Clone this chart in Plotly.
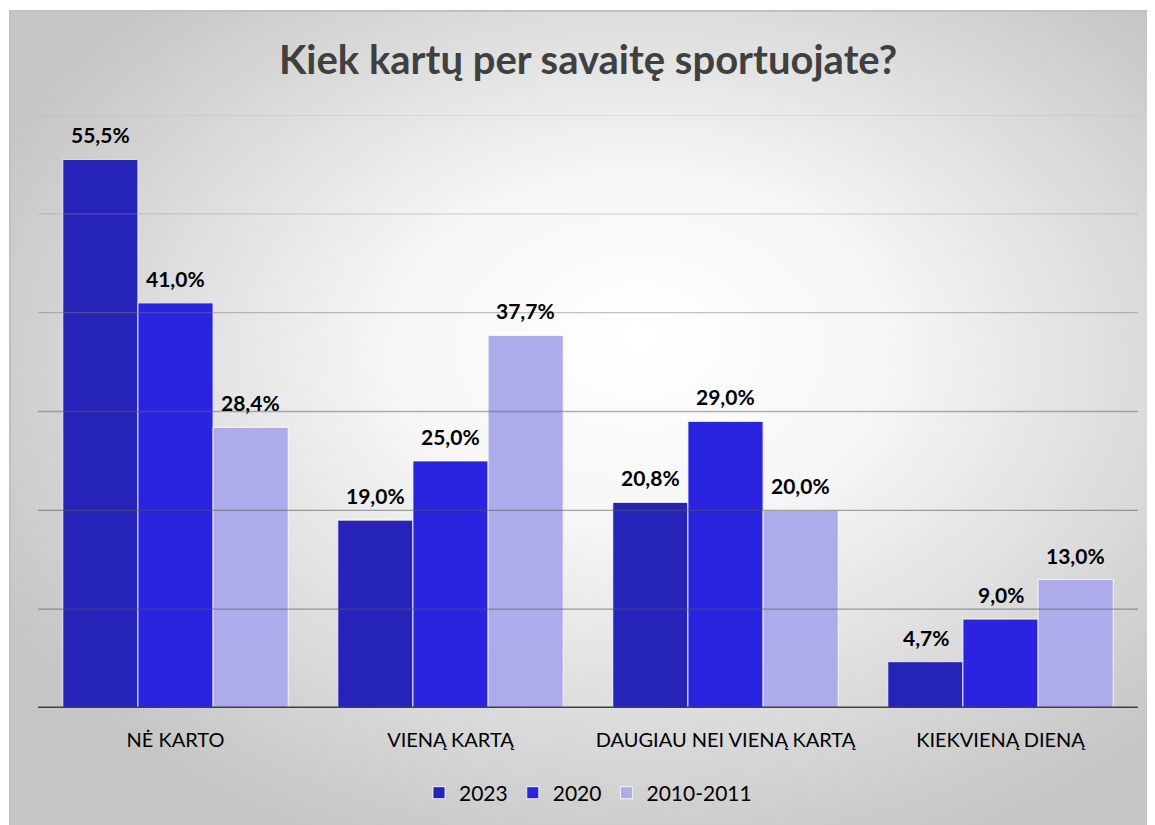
import plotly.graph_objects as go
import urllib.parse

categories = ["NĖ KARTO", "VIENĄ KARTĄ", "DAUGIAU NEI VIENĄ KARTĄ", "KIEKVIENĄ DIENĄ"]
series_names = ["2023", "2020", "2010-2011"]
values_2023 = [55.5, 19.0, 20.8, 4.7]
values_2020 = [41.0, 25.0, 29.0, 9.0]
values_2010 = [28.4, 37.7, 20.0, 13.0]
series_values = [values_2023, values_2020, values_2010]
colors = ["#2623B9", "#2A23E0", "#ADABEA"]
grid_values = [10, 20, 30, 40, 50, 60]
grid_colors = ["rgba(90,90,90,0.55)", "rgba(90,90,90,0.55)", "rgba(100,100,100,0.5)",
               "rgba(120,120,120,0.45)", "rgba(150,150,150,0.35)", "rgba(170,170,170,0.3)"]

FONT = "Lato, 'Open Sans', sans-serif"

fig = go.Figure()
for name, vals, col in zip(series_names, series_values, colors):
    fig.add_trace(go.Bar(
        name=name, x=categories, y=vals,
        marker=dict(color=col, line=dict(color="rgba(255,255,255,0.7)", width=1.2)),
        hoverinfo="skip",
    ))

# data labels
bar_px = 75
for i, vals in enumerate(series_values):
    for c, v in zip(categories, vals):
        fig.add_annotation(
            x=c, y=v, xref="x", yref="y",
            text="<b>" + f"{v:.1f}".replace(".", ",") + "%</b>",
            showarrow=False, yanchor="bottom", yshift=10, xshift=(i - 1) * bar_px,
            font=dict(family=FONT, size=21, color="#000000"),
        )

# gridlines above bars (semi-transparent)
for gv, gc in zip(grid_values, grid_colors):
    fig.add_shape(type="line", xref="paper", yref="y", x0=0, x1=1, y0=gv, y1=gv,
                  line=dict(color=gc, width=1.3), layer="above")
fig.add_shape(type="line", xref="paper", yref="y", x0=0, x1=1, y0=0, y1=0,
              line=dict(color="#404040", width=3), layer="above")

# radial gradient background
BW, BH = 1146, 815
svg = (
    f'<svg xmlns="http://www.w3.org/2000/svg" width="{BW}" height="{BH}" viewBox="0 0 {BW} {BH}" preserveAspectRatio="none">'
    '<defs><radialGradient id="g" cx="0.55" cy="0.45" r="0.62" fx="0.55" fy="0.4">'
    '<stop offset="0" stop-color="#ffffff"/>'
    '<stop offset="0.35" stop-color="#f6f6f6"/>'
    '<stop offset="1" stop-color="#c6c6c6"/>'
    '</radialGradient></defs>'
    f'<rect x="0" y="0" width="{BW}" height="{BH}" fill="url(#g)"/>'
    f'<path d="M1 {BH} L1 1 L{BW} 1" stroke="#c0c0c0" stroke-width="2" fill="none"/>'
    '</svg>'
)
src = "data:image/svg+xml;charset=utf-8," + urllib.parse.quote(svg)

# page body has an 8px margin: figure is laid out in page pixels minus 8
OFF = 8
W, H = 1155 - OFF, 825 - OFF
L, R, T, B = 38 - OFF, 17, 115 - OFF, 117
pw, ph = W - L - R, H - T - B
bx, by = 9 - OFF, 10 - OFF
fig.add_layout_image(
    source=src, xref="paper", yref="paper",
    x=(bx - L) / pw, y=(H - B - by) / ph,
    sizex=BW / pw, sizey=BH / ph,
    xanchor="left", yanchor="top", sizing="stretch", layer="below",
)

fig.update_layout(
    width=W, height=H,
    margin=dict(l=L, r=R, t=T, b=B, pad=0),
    paper_bgcolor="white", plot_bgcolor="rgba(0,0,0,0)",
    barmode="group", bargap=0.18, bargroupgap=0,
    title=dict(text="<b>Kiek kartų per savaitę sportuojate?</b>", x=0.5, xanchor="center",
               y=(H - (60 - OFF)) / H, yanchor="middle", xref="paper",
               font=dict(family=FONT, size=40, color="#404040")),
    xaxis=dict(showgrid=False, showline=False, ticks="", ticklabelstandoff=18,
               tickfont=dict(family=FONT, size=20, color="#000000"), fixedrange=True),
    yaxis=dict(range=[0, 60], showgrid=False, zeroline=False, showticklabels=False,
               showline=False, fixedrange=True),
    legend=dict(orientation="h", x=0.5, xanchor="center", y=(708 - 793) / ph, yanchor="middle",
                font=dict(family=FONT, size=21, color="#000000"), bgcolor="rgba(0,0,0,0)",
                itemwidth=30, traceorder="normal"),
    showlegend=True,
)

fig.write_html("out.html")
